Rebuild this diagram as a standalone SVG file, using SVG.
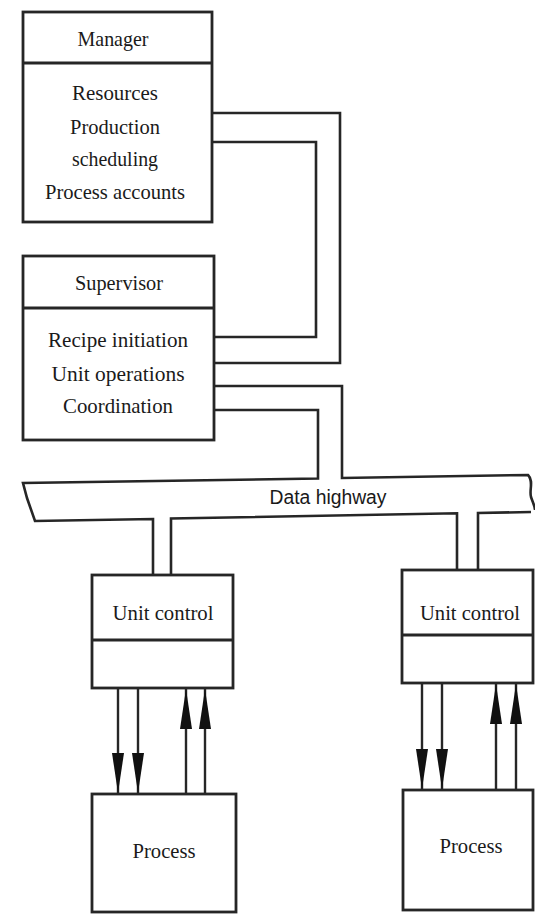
<svg xmlns="http://www.w3.org/2000/svg" width="535" height="915" viewBox="0 0 535 915">
  <style>
    .box { fill: #fff; stroke: #262626; stroke-width: 2.8; }
    .div { stroke: #262626; stroke-width: 2.8; fill: none; }
    .wire { fill: none; stroke: #262626; stroke-width: 2.6; stroke-linejoin: miter; }
    .sig { fill: none; stroke: #262626; stroke-width: 2.4; }
    .lbl { font-family: "Liberation Serif", "Times New Roman", serif; font-size: 22px; fill: #1a1a1a; text-anchor: middle; }
    .bus { font-family: "Liberation Sans", Arial, sans-serif; font-size: 20px; fill: #1a1a1a; text-anchor: middle; }
  </style>
  <defs>
    <marker id="ah" viewBox="0 0 40 12" refX="40" refY="6" markerWidth="40" markerHeight="12" markerUnits="userSpaceOnUse" orient="auto">
      <path d="M0,0 L40,6 L0,12 z" fill="#111"/>
    </marker>
  </defs>
  <rect width="535" height="915" fill="#fff"/>

  <!-- links between levels and the data highway -->
  <g id="connectors">
    <!-- manager to supervisor -->
    <path class="wire" d="M212,113 H340 V363 H214"/>
    <path class="wire" d="M212,142 H316 V337 H214"/>
    <!-- supervisor down into the highway, highway outline -->
    <path class="wire" d="M214,410 H318 V478.5 L23,483 L27,498 L35,521 L153,519 V575"/>
    <path class="wire" d="M171,575 V518.5 L457,513.3 V570"/>
    <path class="wire" d="M478,570 V513 L531,512"/>
    <path class="wire" d="M214,386 H342 V478 L528,475 C534,481 529,490 531,497 C533,503 535,506 535,510"/>
    <!-- unit control to process signals -->
    <line class="sig" x1="118" y1="688" x2="118" y2="793" marker-end="url(#ah)"/>
    <line class="sig" x1="138" y1="688" x2="138" y2="793" marker-end="url(#ah)"/>
    <line class="sig" x1="186" y1="794" x2="186" y2="689" marker-end="url(#ah)"/>
    <line class="sig" x1="205" y1="794" x2="205" y2="689" marker-end="url(#ah)"/>
    <line class="sig" x1="422" y1="683" x2="422" y2="789" marker-end="url(#ah)"/>
    <line class="sig" x1="442" y1="683" x2="442" y2="789" marker-end="url(#ah)"/>
    <line class="sig" x1="496" y1="790" x2="496" y2="684" marker-end="url(#ah)"/>
    <line class="sig" x1="516" y1="790" x2="516" y2="684" marker-end="url(#ah)"/>
    <text class="bus" x="328" y="504" textLength="117" lengthAdjust="spacingAndGlyphs">Data highway</text>
  </g>

  <g id="manager">
    <rect class="box" x="23" y="12" width="189" height="210"/>
    <line class="div" x1="23" y1="63" x2="212" y2="63"/>
    <text class="lbl" x="113" y="46" textLength="71" lengthAdjust="spacingAndGlyphs">Manager</text>
    <text class="lbl" x="115" y="100" textLength="86" lengthAdjust="spacingAndGlyphs">Resources</text>
    <text class="lbl" x="115" y="134" textLength="90" lengthAdjust="spacingAndGlyphs">Production</text>
    <text class="lbl" x="115" y="166" textLength="86" lengthAdjust="spacingAndGlyphs">scheduling</text>
    <text class="lbl" x="115" y="199" textLength="140" lengthAdjust="spacingAndGlyphs">Process accounts</text>
  </g>

  <g id="supervisor">
    <rect class="box" x="23" y="256" width="191" height="184"/>
    <line class="div" x1="23" y1="308" x2="214" y2="308"/>
    <text class="lbl" x="119" y="290" textLength="88" lengthAdjust="spacingAndGlyphs">Supervisor</text>
    <text class="lbl" x="118" y="347" textLength="140" lengthAdjust="spacingAndGlyphs">Recipe initiation</text>
    <text class="lbl" x="118" y="381" textLength="133" lengthAdjust="spacingAndGlyphs">Unit operations</text>
    <text class="lbl" x="118" y="413" textLength="110" lengthAdjust="spacingAndGlyphs">Coordination</text>
  </g>

  <g id="unit-control-1">
    <rect class="box" x="92" y="575" width="141" height="113"/>
    <line class="div" x1="92" y1="640" x2="233" y2="640"/>
    <text class="lbl" x="163" y="620" textLength="101" lengthAdjust="spacingAndGlyphs">Unit control</text>
  </g>

  <g id="unit-control-2">
    <rect class="box" x="402" y="570" width="131" height="113"/>
    <line class="div" x1="402" y1="635" x2="533" y2="635"/>
    <text class="lbl" x="470" y="620" textLength="100" lengthAdjust="spacingAndGlyphs">Unit control</text>
  </g>

  <g id="process-1">
    <rect class="box" x="92" y="794" width="144" height="118"/>
    <text class="lbl" x="164" y="858" textLength="63" lengthAdjust="spacingAndGlyphs">Process</text>
  </g>

  <g id="process-2">
    <rect class="box" x="403" y="790" width="130" height="120"/>
    <text class="lbl" x="471" y="853" textLength="63" lengthAdjust="spacingAndGlyphs">Process</text>
  </g>
</svg>
